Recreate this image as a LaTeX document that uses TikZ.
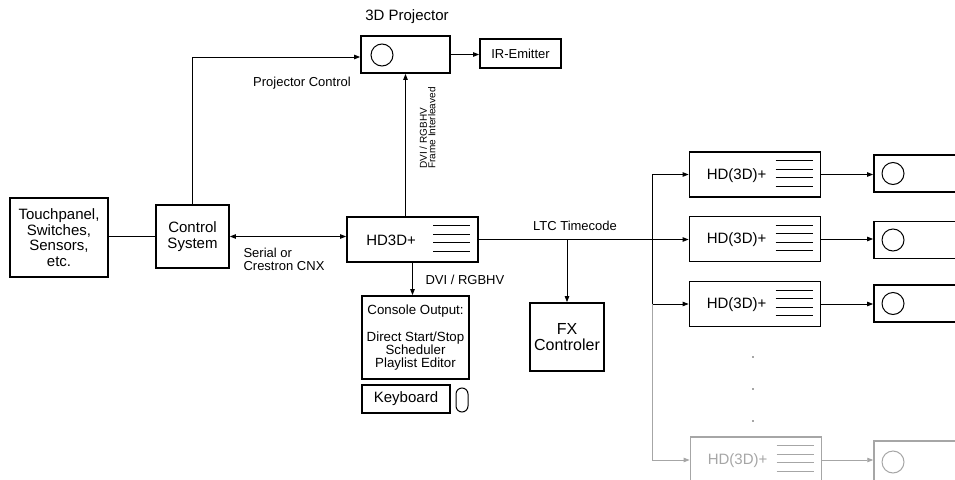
\documentclass[tikz,border=0pt]{standalone}
\usepackage{fontspec}
\setmainfont{Liberation Sans}
\usetikzlibrary{arrows.meta,calc}
\definecolor{fade}{HTML}{A6A6A6}
\begin{document}
\begin{tikzpicture}[x=1pt,y=-1pt,
  box/.style={draw, rectangle, line width=1.8pt, inner sep=0pt, align=center},
  thinbox/.style={draw, rectangle, line width=1.1pt, inner sep=0pt, align=center},
  lens/.style={draw, circle, line width=1pt, minimum size=22pt, inner sep=0pt},
  conn/.style={line width=0.9pt},
  arr/.style={conn, -{Triangle[length=6pt,width=4.5pt]}},
  darr/.style={conn, {Triangle[length=6pt,width=4.5pt]}-{Triangle[length=6pt,width=4.5pt]}},
  big/.style={font=\fontsize{15}{15.5}\selectfont},
  mid/.style={font=\fontsize{13.3}{13}\selectfont},
  small/.style={font=\fontsize{13}{13}\selectfont},
  tiny/.style={font=\fontsize{10}{8.5}\selectfont},
  stripe/.style={line width=1pt}
]
\useasboundingbox (0,0) rectangle (955,479);
\clip (0,0) rectangle (955,479);
\fill[white] (0,0) rectangle (955,479);

% projector and IR emitter
\node[big] (projlbl) at (407,17) {3D Projector};
\node[box, minimum width=89pt, minimum height=37pt] (proj) at (405.5,54.5) {};
\node[lens] (projc) at (382,55) {};
\node[box, small, minimum width=81pt, minimum height=29pt] (ir) at (520.5,53.5) {IR-Emitter};

% left side
\node[box, big, minimum width=98pt, minimum height=79pt] (touch) at (59,237.5) {Touchpanel,\\Switches,\\Sensors,\\etc.};
\node[box, big, minimum width=73pt, minimum height=63pt] (ctrl) at (192.5,236.5) {Control\\System};

% HD3D+
\node[box, minimum width=131pt, minimum height=45pt] (hd) at (412.5,239.5) {};
\node[big] (hdt) at ($(hd.west)+(45,1)$) {HD3D+};

% console + keyboard
\node[box, mid, minimum width=107pt, minimum height=83pt] (console) at (415.5,337.5)
  {Console Output:\\[14pt]Direct Start/Stop\\Scheduler\\Playlist Editor};
\node[thinbox, big, minimum width=88pt, minimum height=28pt] (kbd) at (406,399) {Keyboard};
\node[draw, rectangle, rounded corners=6pt, line width=1pt, minimum width=12pt, minimum height=24pt, inner sep=0pt] (mouse) at (462,400) {};

% FX
\node[box, font=\fontsize{16}{16}\selectfont, minimum width=74pt, minimum height=68pt] (fx) at (567,337) {FX\\Controler};

% right column
\coordinate (bus) at (652,0);
\foreach \n/\y in {hdA/174.5, hdB/239, hdC/304} {
  \node[box, minimum width=131pt, minimum height=45pt] (\n) at (755,\y) {};
  \node[big] (\n t) at ($(\n.west)+(48,1)$) {HD(3D)+};
}
\node[box, draw=fade, minimum width=131pt, minimum height=46pt] (hdD) at (756,460) {};
\node[big, text=fade] (hdDt) at ($(hdD.west)+(48,1)$) {HD(3D)+};

\foreach \n/\y in {prA/173.5, prB/240, prC/303.5} {
  \node[box, minimum width=100pt, minimum height=37pt] (\n) at (924,\y) {};
  \node[lens] (\n c) at (893,\y) {};
}
\node[box, draw=fade, line width=1.5pt, minimum width=100pt, minimum height=42pt] (prD) at (924,462) {};
\node[lens, draw=fade] (prDc) at (893,462) {};

% stripes on HD boxes
\foreach \n in {hd,hdA,hdB,hdC}
  \foreach \d in {9.5,18,26.5,35}
    \draw[stripe] ($(\n.north west)+(87,\d)$) -- ++(37,0);
\foreach \d in {9.5,18,26.5,35}
  \draw[stripe, color=fade] ($(hdD.north west)+(87,\d)$) -- ++(37,0);

% dots
\foreach \y [count=\i] in {357,389,421}
  \node[fill=fade, minimum size=2.8pt, inner sep=0pt] (dot\i) at (753,\y) {};

% connectors
\draw[conn] (touch.east |- ctrl.east) -- (ctrl.west);
\draw[darr] (ctrl.east) -- (ctrl.east -| hd.west);
\draw[arr] (ctrl.north) |- ($(proj.west)+(0,2.5)$);
\draw[arr] (proj.south |- hd.north) -- (proj.south);
\draw[arr] (proj.east) -- (proj.east -| ir.west);
\draw[arr] (hd.south) -- (hd.south |- console.north);
\draw[arr] (hd.east) -- (hd.east -| hdB.west);
\draw[arr] (hd.east -| fx.north) -- (fx.north);
\draw[arr] (hd.east -| bus) |- (hdA.west);
\draw[arr] (hd.east -| bus) |- (hdC.west);
\draw[arr, color=fade] (hdC.west -| bus) |- (hdD.west);
\foreach \a/\b in {hdA/prA, hdB/prB, hdC/prC}
  \draw[arr] (\a.east) -- (\a.east -| \b.west);
\draw[arr, color=fade] (hdD.east) -- (hdD.east -| prD.west);

% labels
\node[small] (lpc) at (302,83) {Projector Control};
\node[small, align=left, anchor=north west] (lser) at (240,245) {Serial or\\Crestron CNX};
\node[small] (lltc) at (575,226) {LTC Timecode};
\node[small, anchor=west] (ldvi) at (422,280) {DVI / RGBHV};
\node[tiny, rotate=90, align=left, anchor=north west] (lfi) at (416,172) {DVI / RGBHV\\Frame Interleaved};
\end{tikzpicture}
\end{document}
